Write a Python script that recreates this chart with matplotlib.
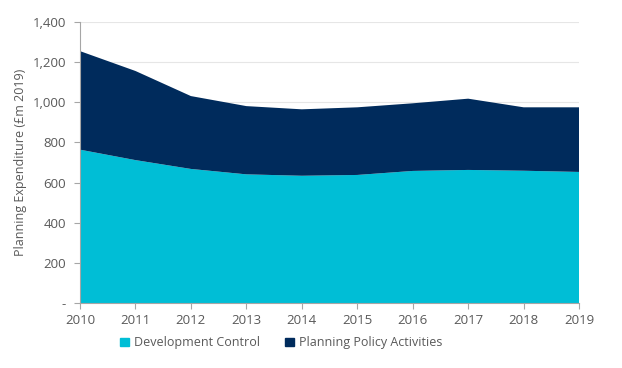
import matplotlib
matplotlib.use('Agg')
import matplotlib.pyplot as plt
from matplotlib.ticker import FuncFormatter
from matplotlib.patches import Patch

plt.rcParams['font.family'] = ['Open Sans', 'DejaVu Sans']

years = [2010, 2011, 2012, 2013, 2014, 2015, 2016, 2017, 2018, 2019]
dev_control = [764, 712, 668, 641, 634, 638, 658, 663, 659, 653]
policy_total = [1255, 1156, 1031, 981, 965, 975, 995, 1018, 975, 975]
policy = [t - d for t, d in zip(policy_total, dev_control)]

c_dev = '#00BED6'
c_pol = '#002B5C'
txt = '#595959'

fig = plt.figure(figsize=(6.22, 3.68), dpi=100)
ax = fig.add_axes([0.1286, 0.1766, 0.8024, 0.7636])

ax.stackplot(years, dev_control, policy, colors=[c_dev, c_pol], linewidth=0)

ax.set_xlim(2010, 2019)
ax.set_ylim(0, 1400)
ax.set_yticks(range(0, 1401, 200))
ax.set_xticks(years)
ax.yaxis.set_major_formatter(FuncFormatter(lambda v, p: '-' if v == 0 else f'{int(v):,}'))

ax.grid(axis='y', color='#E6E6E6', linewidth=0.8)
ax.set_axisbelow(True)
for s in ['top', 'right']:
    ax.spines[s].set_visible(False)
for s in ['left', 'bottom']:
    ax.spines[s].set_color('#A6A6A6')
    ax.spines[s].set_linewidth(0.8)
ax.tick_params(axis='x', colors='#A6A6A6', labelcolor=txt, labelsize=9.5, length=4, pad=4)
ax.tick_params(axis='y', colors='#A6A6A6', labelcolor=txt, labelsize=9.5, length=4, pad=6)

ax.set_ylabel('Planning Expenditure (£m 2019)', color=txt, fontsize=9, labelpad=4)

handles = [Patch(color=c_dev, label='Development Control'),
           Patch(color=c_pol, label='Planning Policy Activities')]
fig.legend(handles=handles, loc='center', bbox_to_anchor=(0.452, 0.068), ncol=2,
           frameon=False, fontsize=9, labelcolor=txt, handlelength=0.7,
           handleheight=0.7, handletextpad=0.4, columnspacing=2.0)

fig.savefig('out.png', dpi=100)
